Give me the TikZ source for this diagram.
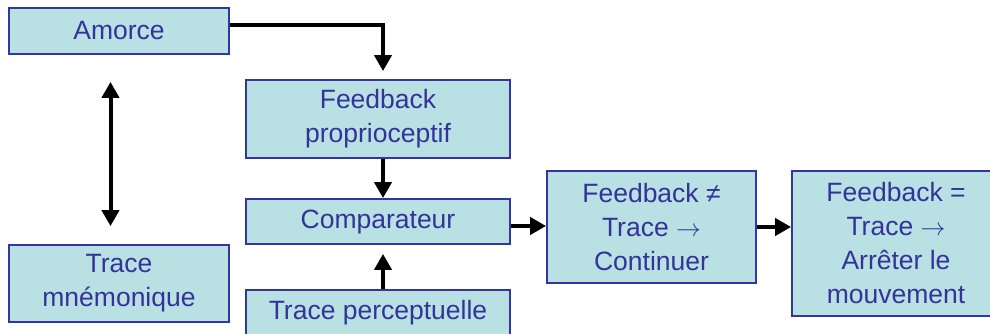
\documentclass[tikz,border=0pt]{standalone}
\usepackage{fontspec}
\setmainfont{Liberation Sans}
\usetikzlibrary{arrows.meta}
\definecolor{boxfill}{HTML}{B9E0E3}
\definecolor{boxdraw}{HTML}{3535A0}
\definecolor{boxtext}{HTML}{333399}
\begin{document}
\begin{tikzpicture}[x=1pt,y=-1pt,
  box/.style={draw=boxdraw, line width=1.8pt, fill=boxfill, text=boxtext,
    font=\fontsize{26.5}{34}\selectfont, align=center, inner sep=0pt},
  conn/.style={line width=4pt, -{Triangle[length=16pt,width=17pt]}},
  dconn/.style={line width=4pt, {Triangle[length=16pt,width=17pt]}-{Triangle[length=16pt,width=17pt]}}]
\useasboundingbox (0,0) rectangle (990,334);
\fill[white] (0,0) rectangle (990,334);
\node[box, minimum width=220pt, minimum height=46pt] (amorce) at (119,31) {Amorce};
\node[box, minimum width=264pt, minimum height=78pt] (fp) at (378,119) {Feedback\\proprioceptif};
\node[box, minimum width=264pt, minimum height=45pt] (comp) at (378,221.5) {Comparateur};
\node[box, minimum width=264pt, minimum height=46pt] (tp) at (378,313) {Trace perceptuelle};
\node[box, minimum width=220pt, minimum height=77pt] (tm) at (119,283.5) {Trace\\mnémonique};
\node[box, minimum width=209pt, minimum height=112pt] (cont) at (651.5,227) {Feedback ≠\\Trace $\rightarrow$\\Continuer};
\node[box, minimum width=208pt, minimum height=145pt] (arr) at (896,243.5) {Feedback =\\Trace $\rightarrow$\\Arrêter le\\mouvement};
\draw[conn, shorten >=8pt] ([yshift=6pt]amorce.east) -| ([xshift=5pt]fp.north);
\draw[dconn, shorten <=27pt, shorten >=18pt] ([xshift=-8.5pt]amorce.south) -- ([xshift=-8.5pt]tm.north);
\draw[conn] ([xshift=5pt]fp.south) -- ([xshift=5pt]comp.north);
\draw[conn, shorten >=9pt] ([xshift=5pt]tp.north) -- ([xshift=5pt]comp.south);
\draw[conn] ([yshift=-4.5pt]comp.east) -- ([yshift=-4.5pt]comp.east -| cont.west);
\draw[conn] (cont.east) -- (cont.east -| arr.west);
\end{tikzpicture}
\end{document}
